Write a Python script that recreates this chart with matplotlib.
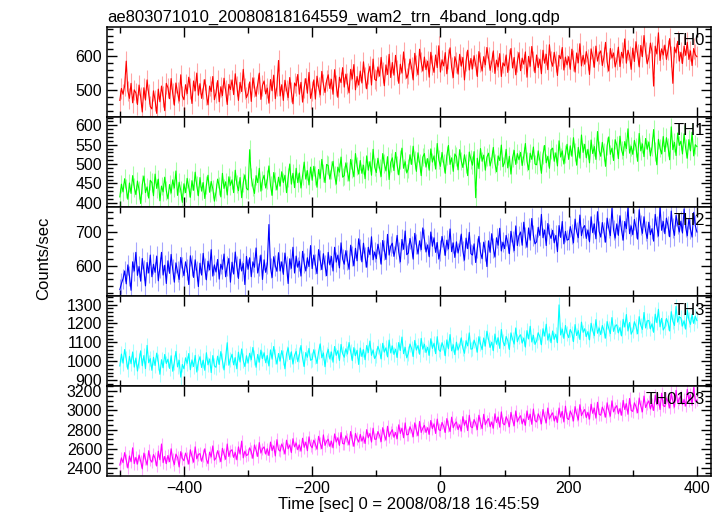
import numpy as np
import matplotlib
matplotlib.use("Agg")
from matplotlib import pyplot as plt
from matplotlib.ticker import MultipleLocator

plt.rcParams['font.family'] = ['Liberation Sans', 'DejaVu Sans']

# bins de 2.5 s, 0 = 2008/08/18 16:45:59
tiempo = np.arange(-500, 400.1, 2.5)

th0 = [470, 505, 488, 512, 585, 498, 476, 520, 463, 501,
       492, 458, 515, 480, 436, 507, 471, 530, 489, 452,
       445, 498, 470, 432, 503, 466, 512, 481, 440, 520,
       507, 475, 534, 490, 456, 521, 493, 468, 545, 483,
       472, 516, 490, 538, 505, 461, 527, 498, 550, 485,
       519, 476, 503, 531, 488, 457, 512, 496, 540, 472,
       493, 528, 466, 510, 484, 535, 499, 458, 517, 502,
       530, 487, 548, 512, 470, 523, 496, 561, 505, 478,
       491, 524, 467, 536, 509, 482, 518, 550, 473, 514,
       527, 489, 506, 462, 531, 498, 544, 475, 512, 587,
       483, 516, 470, 529, 501, 478, 537, 495, 460, 521,
       512, 546, 488, 523, 465, 507, 534, 491, 552, 476,
       498, 530, 474, 541, 509, 486, 555, 517, 493, 528,
       545, 505, 532, 488, 560, 514, 479, 538, 522, 566,
       509, 547, 520, 492, 561, 533, 575, 501, 540, 515,
       556, 521, 583, 537, 504, 549, 570, 515, 591, 532,
       528, 568, 541, 596, 552, 513, 574, 546, 605, 537,
       581, 544, 602, 558, 520, 576, 550, 612, 563, 535,
       549, 591, 566, 530, 608, 572, 545, 620, 583, 556,
       597, 560, 585, 538, 611, 574, 552, 603, 566, 630,
       553, 589, 571, 610, 548, 592, 624, 566, 537, 598,
       581, 547, 605, 570, 596, 530, 585, 617, 559, 593,
       562, 601, 575, 540, 613, 582, 556, 598, 574, 625,
       595, 558, 583, 615, 549, 588, 568, 607, 540, 580,
       571, 603, 552, 590, 622, 565, 596, 545, 584, 610,
       557, 594, 576, 612, 538, 599, 570, 628, 585, 551,
       603, 566, 591, 548, 617, 579, 605, 560, 633, 586,
       570, 611, 584, 543, 602, 592, 625, 559, 597, 574,
       598, 561, 620, 587, 553, 609, 580, 636, 571, 602,
       576, 613, 590, 546, 621, 598, 567, 629, 585, 606,
       615, 572, 597, 640, 583, 556, 622, 594, 609, 568,
       588, 626, 569, 611, 594, 650, 579, 617, 600, 561,
       623, 584, 642, 605, 568, 631, 598, 660, 612, 577,
       596, 638, 612, 512, 629, 606, 668, 587, 621, 603,
       632, 590, 617, 651, 598, 520, 626, 609, 643, 585,
       611, 578, 629, 602, 640, 590, 615, 572, 622, 604,
       598]

th1 = [415, 448, 428, 462, 437, 409, 451, 424, 470, 440,
       421, 456, 433, 398, 447, 469, 426, 441, 412, 458,
       452, 418, 474, 437, 461, 405, 443, 428, 466, 431,
       410, 447, 425, 459, 438, 482, 419, 453, 432, 401,
       449, 426, 463, 440, 414, 457, 432, 479, 444, 418,
       465, 430, 452, 411, 446, 471, 427, 455, 436, 404,
       428, 461, 443, 415, 476, 437, 454, 420, 467, 445,
       459, 426, 484, 448, 431, 465, 413, 452, 472, 437,
       433, 537, 466, 441, 424, 470, 452, 489, 430, 458,
       471, 438, 460, 495, 445, 419, 478, 456, 433, 466,
       443, 480, 452, 471, 426, 465, 500, 448, 476, 439,
       489, 452, 477, 438, 470, 505, 461, 483, 446, 492,
       458, 494, 471, 440, 486, 463, 512, 477, 452, 499,
       496, 461, 485, 507, 470, 448, 492, 479, 518, 466,
       470, 503, 481, 456, 512, 489, 467, 527, 495, 474,
       509, 476, 497, 462, 521, 484, 506, 471, 538, 492,
       478, 515, 490, 468, 527, 501, 482, 519, 460, 504,
       516, 483, 530, 497, 472, 511, 541, 489, 506, 477,
       488, 524, 499, 546, 510, 481, 529, 503, 470, 518,
       527, 492, 514, 484, 539, 505, 521, 487, 553, 511,
       494, 530, 503, 476, 522, 548, 499, 516, 481, 526,
       519, 485, 537, 508, 491, 524, 502, 470, 531, 512,
       497, 532, 413, 515, 488, 540, 507, 523, 484, 518,
       528, 495, 513, 543, 502, 480, 521, 509, 549, 493,
       504, 538, 490, 520, 474, 516, 535, 499, 527, 511,
       530, 496, 521, 553, 507, 485, 528, 512, 544, 500,
       498, 534, 509, 476, 525, 548, 503, 520, 489, 537,
       541, 507, 529, 495, 560, 518, 534, 500, 526, 551,
       512, 547, 520, 568, 531, 497, 543, 515, 575, 530,
       551, 516, 538, 503, 562, 527, 545, 512, 584, 535,
       520, 556, 531, 494, 547, 570, 525, 541, 509, 563,
       549, 514, 572, 536, 522, 558, 540, 591, 528, 546,
       525, 561, 543, 507, 579, 534, 552, 519, 566, 538,
       557, 521, 545, 589, 533, 498, 564, 541, 526, 571,
       532, 568, 544, 511, 596, 537, 556, 522, 580, 548,
       559, 526, 578, 540, 515, 563, 534, 582, 521, 550,
       545]

th2 = [530, 548, 562, 585, 547, 603, 570, 528, 612, 585,
       640, 572, 598, 555, 622, 587, 541, 610, 579, 632,
       568, 605, 581, 629, 556, 595, 640, 573, 602, 548,
       615, 578, 634, 590, 552, 609, 583, 560, 625, 597,
       571, 612, 589, 545, 630, 601, 566, 618, 584, 539,
       608, 573, 637, 592, 559, 614, 588, 648, 570, 603,
       582, 619, 561, 605, 590, 635, 568, 599, 622, 552,
       611, 576, 641, 598, 563, 620, 585, 607, 545, 628,
       590, 624, 568, 612, 596, 653, 579, 601, 632, 560,
       618, 581, 605, 722, 594, 566, 627, 601, 584, 639,
       585, 612, 575, 638, 600, 548, 621, 593, 655, 579,
       629, 596, 614, 570, 643, 608, 585, 624, 598, 660,
       592, 632, 605, 577, 648, 617, 589, 636, 601, 571,
       640, 603, 628, 585, 655, 611, 632, 594, 668, 620,
       605, 645, 618, 590, 661, 629, 600, 652, 615, 680,
       648, 612, 667, 627, 596, 655, 633, 686, 618, 641,
       621, 664, 640, 605, 675, 646, 619, 693, 632, 658,
       667, 628, 651, 690, 640, 612, 678, 649, 703, 633,
       638, 681, 657, 620, 696, 664, 635, 674, 648, 712,
       679, 641, 662, 627, 700, 658, 683, 640, 669, 620,
       645, 687, 662, 631, 676, 650, 709, 642, 668, 625,
       671, 638, 660, 694, 644, 617, 682, 651, 699, 636,
       632, 665, 610, 652, 687, 640, 621, 670, 645, 598,
       674, 640, 695, 652, 626, 683, 661, 711, 644, 670,
       651, 690, 668, 636, 702, 672, 645, 718, 660, 689,
       700, 661, 729, 684, 655, 712, 676, 740, 690, 665,
       671, 714, 690, 752, 683, 706, 660, 725, 695, 681,
       705, 668, 690, 642, 719, 684, 731, 665, 702, 676,
       678, 716, 695, 668, 738, 701, 683, 750, 689, 712,
       719, 681, 706, 671, 745, 698, 724, 680, 760, 702,
       685, 728, 701, 670, 741, 712, 689, 770, 706, 682,
       724, 690, 748, 705, 676, 731, 710, 772, 695, 718,
       692, 737, 713, 679, 766, 720, 696, 745, 703, 681,
       729, 692, 710, 673, 752, 716, 688, 775, 705, 731,
       695, 741, 718, 686, 762, 712, 690, 749, 723, 700,
       732, 697, 768, 714, 689, 740, 708, 685, 758, 719,
       700]

th3 = [975, 1038, 990, 1062, 1012, 958, 1026, 987, 1049, 969,
       1017, 948, 1003, 1055, 976, 1030, 961, 1084, 992, 1014,
       952, 1021, 977, 1043, 996, 931, 1008, 965, 1036, 988,
       1011, 962, 1029, 947, 994, 1052, 970, 1005, 916, 983,
       960, 1018, 989, 1041, 955, 1007, 972, 1031, 943, 996,
       1024, 967, 1006, 952, 1045, 981, 1012, 940, 1030, 975,
       968, 1027, 983, 1051, 1002, 954, 1020, 1098, 979, 1010,
       1037, 981, 1019, 960, 1048, 996, 1065, 1003, 972, 1029,
       990, 1042, 1008, 1073, 1021, 968, 1036, 995, 1059, 1014,
       1045, 992, 1030, 975, 1060, 1011, 1078, 1026, 985, 1041,
       1001, 1056, 1018, 960, 1039, 1071, 1009, 1050, 985, 1032,
       1052, 998, 1034, 1083, 1015, 972, 1046, 1021, 1068, 1005,
       1010, 1061, 1027, 988, 1050, 1092, 1018, 1044, 971, 1036,
       1063, 1012, 1049, 995, 1078, 1031, 1056, 1004, 1089, 1040,
       1021, 1066, 1038, 1099, 1050, 1003, 1072, 1029, 1058, 983,
       1070, 1025, 1061, 1008, 1083, 1046, 1107, 1031, 1060, 1014,
       1032, 1079, 1055, 1012, 1095, 1048, 1071, 1023, 1112, 1044,
       1081, 1036, 1064, 1020, 1099, 1057, 1128, 1040, 1073, 1018,
       1042, 1091, 1068, 1025, 1110, 1059, 1083, 1037, 1121, 1064,
       1090, 1046, 1074, 1031, 1119, 1068, 1095, 1040, 1130, 1061,
       1052, 1098, 1075, 1029, 1113, 1066, 1141, 1055, 1087, 1035,
       1101, 1059, 1083, 1124, 1070, 1042, 1109, 1081, 1150, 1064,
       1066, 1112, 1087, 1048, 1130, 1092, 1061, 1123, 1080, 1159,
       1117, 1073, 1101, 1056, 1144, 1090, 1124, 1068, 1168, 1105,
       1082, 1131, 1108, 1062, 1150, 1117, 1091, 1176, 1103, 1129,
       1140, 1096, 1123, 1075, 1162, 1118, 1185, 1102, 1137, 1089,
       1108, 1151, 1129, 1087, 1172, 1133, 1196, 1112, 1145, 1098,
       1160, 1116, 1143, 1098, 1298, 1139, 1170, 1121, 1189, 1147,
       1125, 1168, 1149, 1104, 1194, 1136, 1162, 1115, 1207, 1153,
       1172, 1130, 1157, 1113, 1201, 1162, 1135, 1220, 1148, 1176,
       1141, 1189, 1163, 1122, 1210, 1174, 1146, 1231, 1158, 1185,
       1193, 1150, 1178, 1134, 1222, 1181, 1247, 1160, 1205, 1143,
       1162, 1209, 1185, 1145, 1236, 1190, 1168, 1258, 1176, 1213,
       1216, 1171, 1198, 1153, 1249, 1204, 1275, 1182, 1227, 1165,
       1181, 1226, 1203, 1160, 1262, 1212, 1189, 1290, 1207, 1235,
       1229, 1186, 1214, 1170, 1271, 1219, 1195, 1248, 1200, 1238,
       1215]

th0123 = [2430, 2505, 2455, 2560, 2480, 2400, 2525, 2465, 2610, 2445,
          2510, 2440, 2535, 2470, 2390, 2555, 2495, 2430, 2580, 2485,
          2460, 2540, 2500, 2420, 2575, 2485, 2650, 2455, 2520, 2445,
          2530, 2465, 2600, 2490, 2435, 2545, 2510, 2410, 2570, 2500,
          2475, 2555, 2505, 2440, 2590, 2520, 2460, 2620, 2495, 2540,
          2550, 2470, 2530, 2600, 2490, 2445, 2565, 2515, 2630, 2480,
          2505, 2580, 2525, 2465, 2605, 2545, 2490, 2650, 2520, 2575,
          2590, 2510, 2560, 2485, 2620, 2545, 2680, 2505, 2575, 2530,
          2540, 2610, 2570, 2500, 2640, 2585, 2520, 2665, 2555, 2600,
          2620, 2545, 2600, 2530, 2670, 2580, 2630, 2525, 2695, 2590,
          2575, 2650, 2610, 2545, 2690, 2600, 2640, 2560, 2705, 2620,
          2660, 2590, 2640, 2575, 2710, 2615, 2670, 2580, 2725, 2635,
          2610, 2690, 2650, 2595, 2730, 2660, 2600, 2745, 2635, 2680,
          2700, 2625, 2680, 2610, 2755, 2670, 2715, 2635, 2770, 2655,
          2650, 2735, 2700, 2640, 2780, 2690, 2625, 2760, 2705, 2670,
          2750, 2680, 2725, 2655, 2800, 2715, 2760, 2670, 2815, 2700,
          2700, 2780, 2740, 2675, 2820, 2745, 2690, 2835, 2725, 2770,
          2800, 2720, 2770, 2705, 2850, 2760, 2815, 2715, 2870, 2745,
          2750, 2830, 2790, 2725, 2870, 2795, 2735, 2885, 2770, 2815,
          2845, 2770, 2820, 2750, 2895, 2810, 2860, 2760, 2910, 2800,
          2790, 2875, 2835, 2770, 2915, 2840, 2780, 2930, 2820, 2860,
          2880, 2800, 2850, 2785, 2935, 2845, 2895, 2790, 2950, 2830,
          2820, 2905, 2865, 2800, 2950, 2870, 2810, 2960, 2850, 2890,
          2915, 2830, 2880, 2815, 2965, 2875, 2930, 2825, 2985, 2865,
          2850, 2935, 2895, 2830, 2980, 2900, 2840, 2995, 2880, 2920,
          2945, 2860, 2910, 2845, 2995, 2905, 2960, 2855, 3015, 2895,
          2880, 2965, 2925, 2860, 3010, 2930, 2870, 3025, 2910, 2950,
          2975, 2890, 2940, 2875, 3025, 2930, 2990, 2880, 3045, 2920,
          2905, 2995, 2955, 2890, 3040, 2960, 2900, 3060, 2945, 2985,
          3010, 2925, 2980, 2910, 3065, 2970, 3025, 2920, 3085, 2960,
          2950, 3035, 2995, 2930, 3080, 3000, 2940, 3100, 2985, 3025,
          3050, 2965, 3020, 2950, 3105, 3010, 3070, 2960, 3125, 3000,
          2990, 3080, 3040, 2975, 3130, 3045, 2985, 3150, 3030, 3070,
          3100, 3015, 3070, 3000, 3160, 3060, 3120, 3010, 3180, 3050,
          3040, 3130, 3090, 3025, 3185, 3095, 3035, 3210, 3080, 3120,
          3150, 3060, 3115, 3045, 3220, 3105, 3165, 3055, 3240, 3095,
          3110]

errores = [30, 24, 30, 40, 65]
nombres = ["TH0", "TH1", "TH2", "TH3", "TH0123"]
colores = ["#ff0000", "#00ff00", "#0000ff", "#00ffff", "#ff00ff"]
limites = [(422, 685), (390, 622), (510, 775), (868, 1343), (2316, 3253)]
mayores = [100, 50, 100, 100, 200]
menores = [20, 10, 20, 20, 50]
series = [th0, th1, th2, th3, th0123]

fig = plt.figure(figsize=(7.24, 5.16), dpi=100)
izq, der = 107 / 724, 711 / 724
arriba, abajo = 27 / 516, 476 / 516
alto = (abajo - arriba) / 5

ejes = []
for i in range(5):
    y0 = 1 - arriba - (i + 1) * alto
    ax = fig.add_axes([izq, y0, der - izq, alto])
    ax.errorbar(tiempo, series[i], yerr=errores[i], fmt="none",
                ecolor=colores[i], alpha=0.35, elinewidth=0.8)
    ax.plot(tiempo, series[i], color=colores[i], lw=0.8)
    ax.set_xlim(-520, 422)
    ax.set_ylim(*limites[i])
    ax.xaxis.set_major_locator(MultipleLocator(200))
    ax.xaxis.set_minor_locator(MultipleLocator(100))
    ax.yaxis.set_major_locator(MultipleLocator(mayores[i]))
    ax.yaxis.set_minor_locator(MultipleLocator(menores[i]))
    ax.tick_params(which="both", direction="in", top=True, right=True,
                   labelsize=11.5, width=1.0)
    ax.tick_params(which="major", length=7)
    ax.tick_params(which="minor", length=4)
    for s in ax.spines.values():
        s.set_linewidth(1.1)
    ax.text(0.99, 0.93, nombres[i], transform=ax.transAxes,
            ha="right", va="top", fontsize=12)
    if i < 4:
        ax.tick_params(labelbottom=False)
    ejes.append(ax)

ejes[0].set_title("ae803071010_20080818164559_wam2_trn_4band_long.qdp",
                  loc="left", fontsize=12, pad=4)
ejes[4].set_xlabel("Time [sec] 0 = 2008/08/18 16:45:59", fontsize=12, labelpad=1)
fig.text(0.06, 0.5, "Counts/sec", rotation=90, va="center", ha="center", fontsize=12)

plt.savefig("out.png", dpi=100)
